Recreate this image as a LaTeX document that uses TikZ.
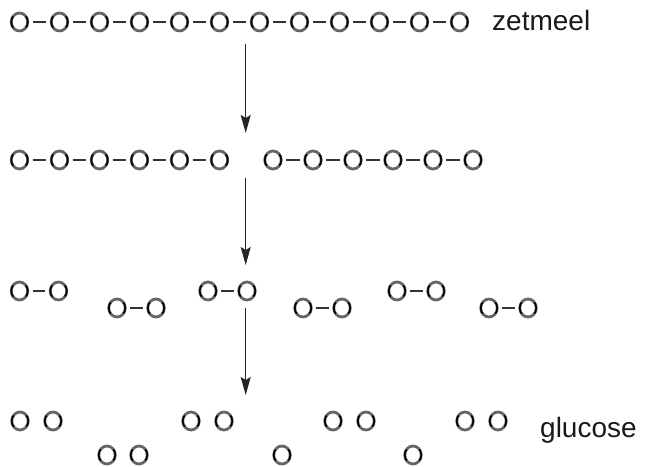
\documentclass[tikz,border=0pt]{standalone}
\usepackage{fontspec}
\setmainfont{Liberation Sans}
\usetikzlibrary{arrows.meta,shapes.geometric}
\begin{document}
\begin{tikzpicture}[x=1pt,y=-1pt,
 ring/.style={ellipse,draw=black!60,line width=2.8pt,minimum width=16.5pt,minimum height=18pt,inner sep=0pt,
   postaction={draw=black,line width=1.6pt,dash pattern=on 6pt off 15pt on 12pt off 15pt on 8pt}},
 bond/.style={line width=1.8pt,black!80,shorten <=3.5pt,shorten >=3.5pt},
 flow/.style={line width=1.5pt,black!85,-{Stealth[length=18pt,width=10pt,inset=3pt]}},
 lbl/.style={font=\fontsize{28}{32}\selectfont,inner sep=0pt,anchor=base west,text=black!90}]
\useasboundingbox (0,0) rectangle (648,466);
% row 1: zetmeel
\foreach \i in {0,...,11} \node[ring] (a\i) at (19.5+40*\i,22) {};
\foreach \i [remember=\i as \p (initially 0)] in {1,...,11} \draw[bond] (a\p) -- (a\i);
\node[lbl] (zet) at (492,30) {zetmeel};
% row 2
\foreach \i in {0,...,5} {
  \node[ring] (b\i) at (19.5+40*\i,160) {};
  \node[ring] (c\i) at (273+40*\i,160) {};
}
\foreach \i [remember=\i as \p (initially 0)] in {1,...,5} {
  \draw[bond] (b\p) -- (b\i);
  \draw[bond] (c\p) -- (c\i);
}
% row 3
\foreach \n/\x/\y in {1/19.5/291, 2/117/308, 3/208/291, 4/303/308, 5/397/291, 6/489/308} {
  \node[ring] (p\n a) at (\x,\y) {};
  \node[ring] (p\n b) at (\x+39,\y) {};
  \draw[bond] (p\n a) -- (p\n b);
}
% row 4: glucose
\foreach \n/\x/\y in {1/20/421, 2/53/421, 3/107/455, 4/139/455, 5/191/421, 6/224/421,
  7/282/455, 8/333/421, 9/366/421, 10/413/455, 11/465/421, 12/498/421}
  \node[ring] (g\n) at (\x,\y) {};
\node[lbl] (glu) at (540,437) {glucose};
% arrows
\coordinate (s1) at (245.7,44);  \coordinate (e1) at (245.7,133);
\coordinate (s2) at (245.7,178); \coordinate (e2) at (245.7,265);
\coordinate (s3) at (245.7,308); \coordinate (e3) at (245.7,395);
\draw[flow] (s1) -- (e1);
\draw[flow] (s2) -- (e2);
\draw[flow] (s3) -- (e3);
\end{tikzpicture}
\end{document}
